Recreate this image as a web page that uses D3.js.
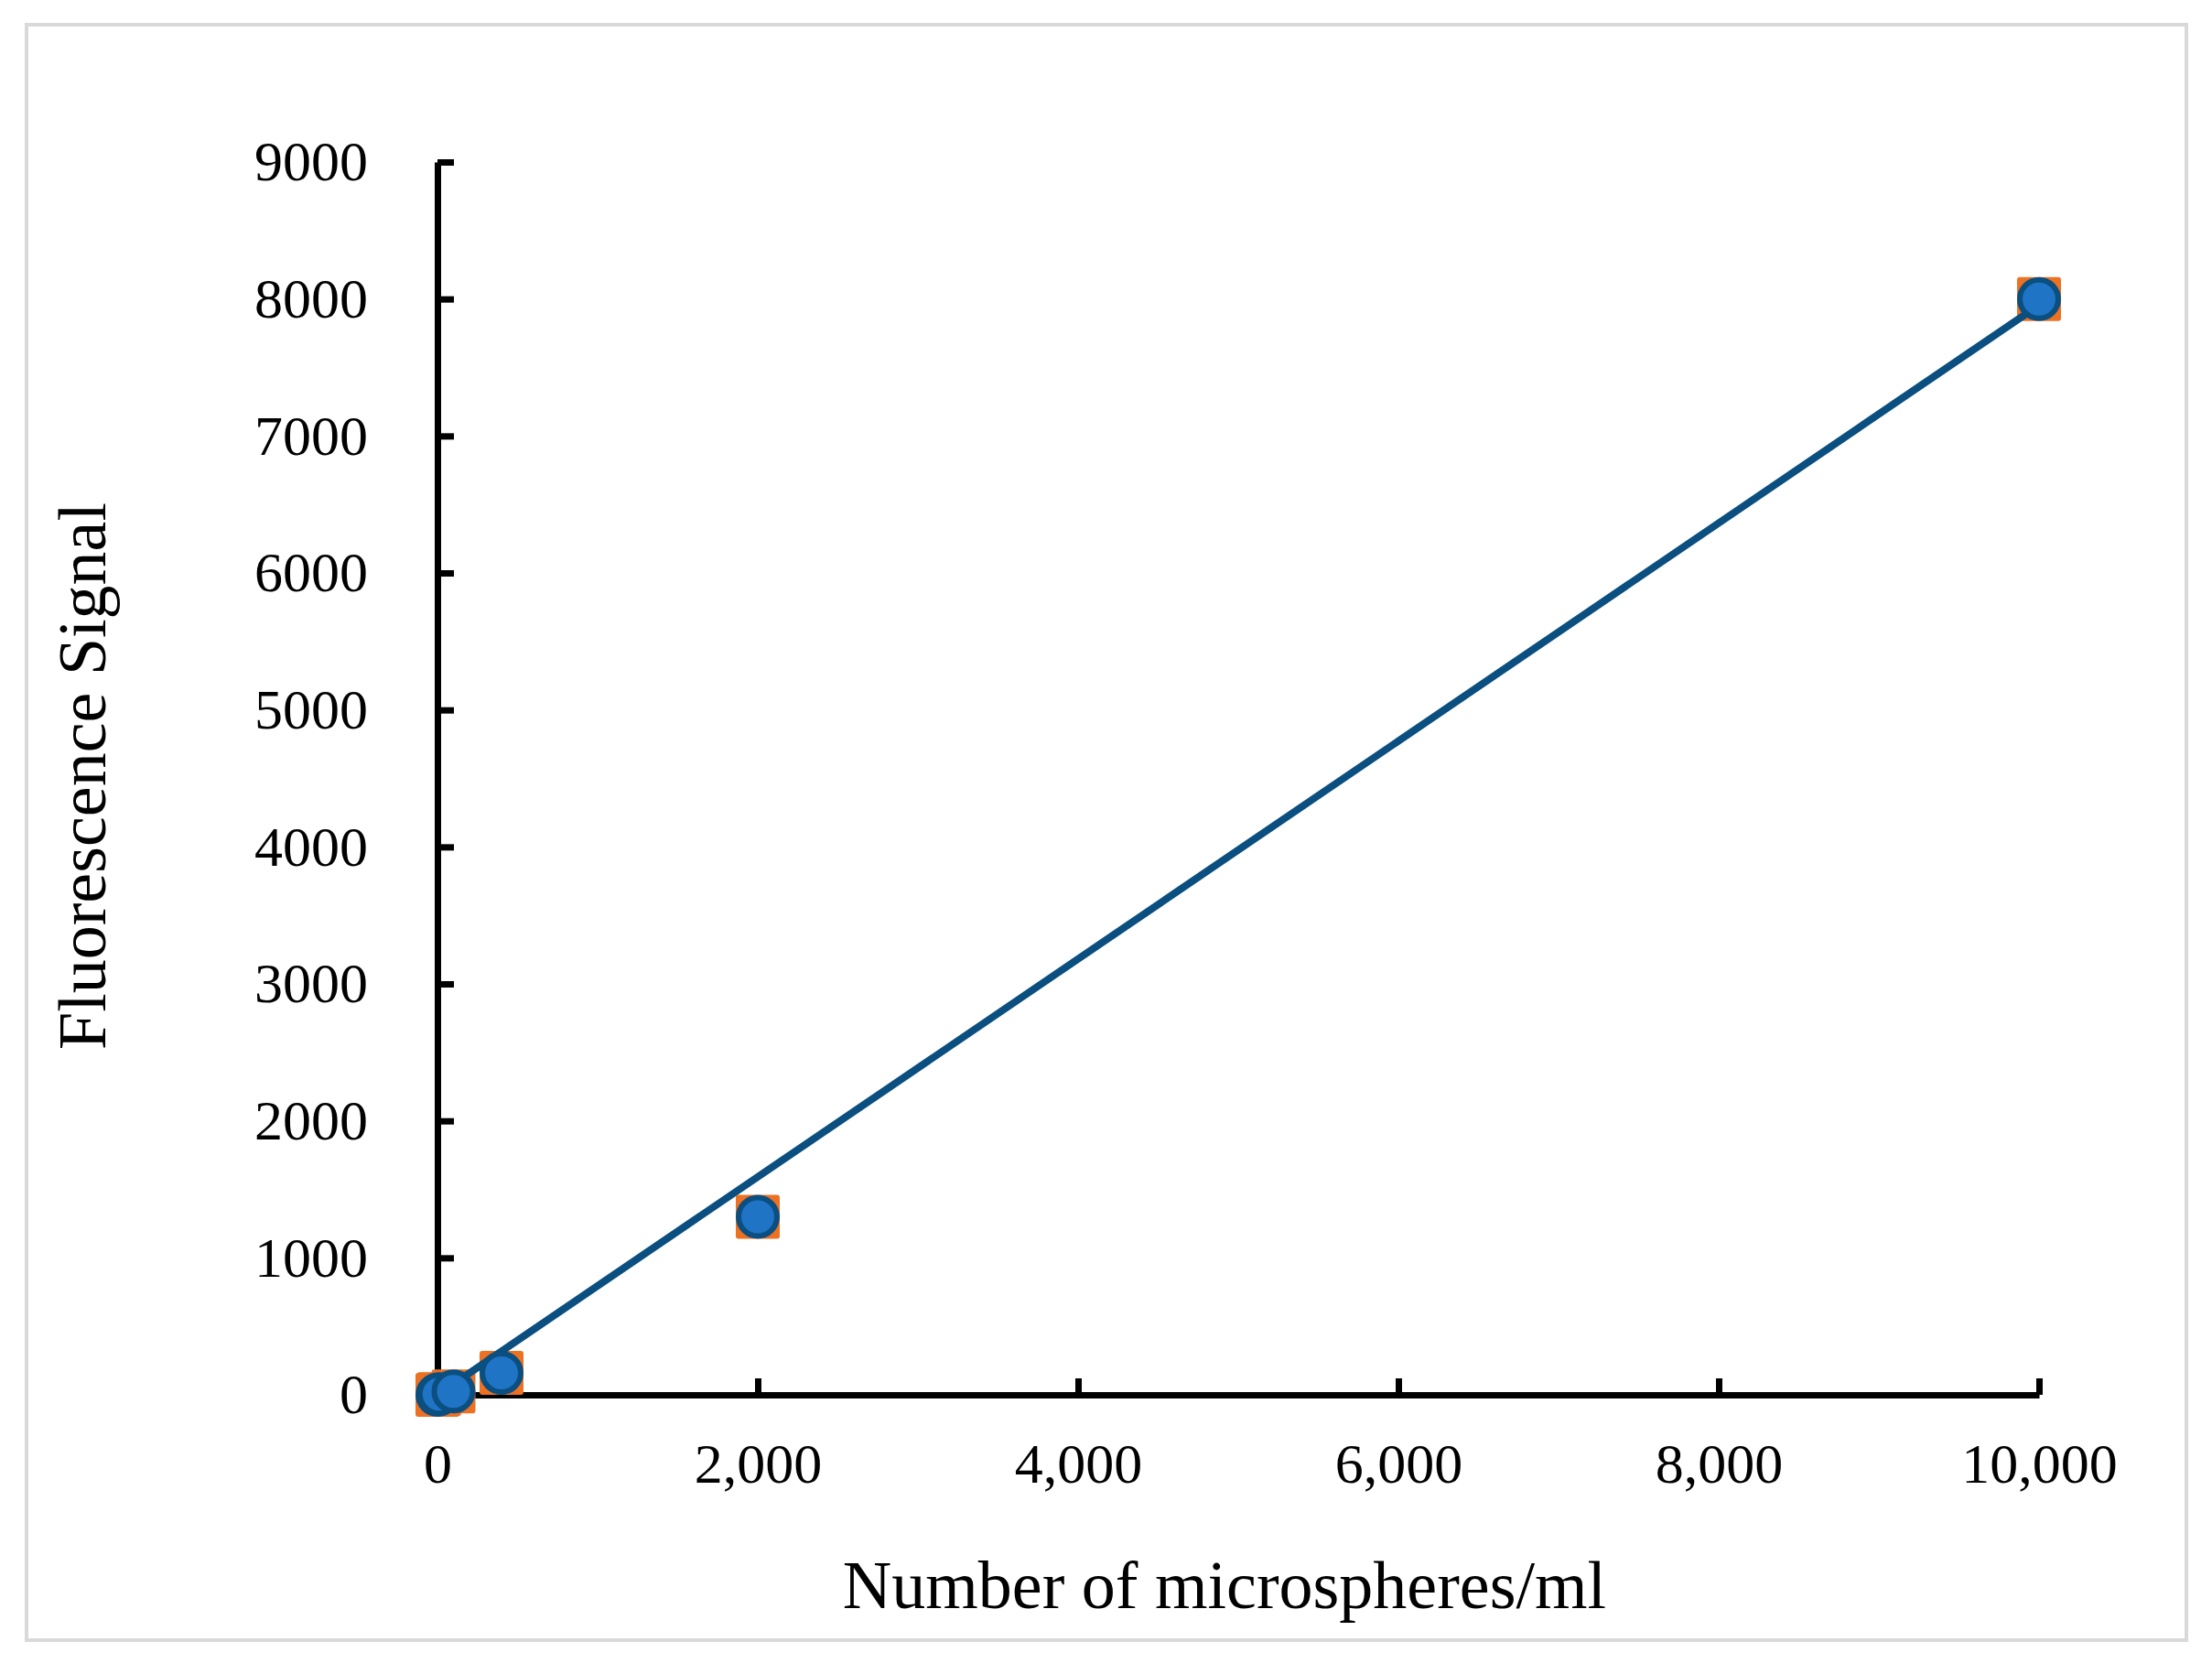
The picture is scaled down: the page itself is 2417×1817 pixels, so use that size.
<!DOCTYPE html><html><head><meta charset="utf-8">
<script src="https://cdn.jsdelivr.net/npm/d3@7"></script>
<style>body{margin:0;background:#fff}</style></head><body>
<svg id="c" width="2417" height="1817"></svg>
<script>
const xValues=[0,10,100,400,2000,10000];
const yValues=[0,5,25,160,1300,8000];
const xTicks=[0,2000,4000,6000,8000,10000];
const yTicks=[0,1000,2000,3000,4000,5000,6000,7000,8000,9000];
const svg=d3.select("#c");
const font="'Liberation Serif','Times New Roman',serif";
svg.append("rect").attr("x",29).attr("y",27).attr("width",2360).attr("height",1765).attr("fill","#fff").attr("stroke","#d9d9d9").attr("stroke-width",4);
const x=d3.scaleLinear().domain([0,10000]).range([478,2228]);
const y=d3.scaleLinear().domain([0,9000]).range([1524,177]);
const xa=svg.append("g").attr("transform","translate(0,1524)").call(d3.axisBottom(x).tickValues(xTicks).tickFormat(d3.format(",")).tickSize(-18).tickPadding(40).tickSizeOuter(0));
const ya=svg.append("g").attr("transform","translate(478,0)").call(d3.axisLeft(y).tickValues(yTicks).tickFormat(d=>d).tickSize(-18).tickPadding(76).tickSizeOuter(0));
[xa,ya].forEach(a=>{a.selectAll("path,line").attr("stroke","#000").attr("stroke-width",7);a.selectAll("text").attr("font-family",font).attr("font-size",62).attr("fill","#000");});
xa.selectAll("text").attr("dy","0.9em");
// regression trendline
const n=xValues.length,mx=d3.mean(xValues),my=d3.mean(yValues);
let sxy=0,sxx=0;for(let i=0;i<n;i++){sxy+=(xValues[i]-mx)*(yValues[i]-my);sxx+=(xValues[i]-mx)**2;}
const b=sxy/sxx,a0=my-b*mx;
const pts=xValues.map((d,i)=>({x:d,y:yValues[i]}));
svg.selectAll("rect.sq").data(pts).enter().append("rect").attr("class","sq")
 .attr("x",d=>x(d.x)-24).attr("y",d=>y(d.y)-24).attr("width",48).attr("height",48).attr("rx",3).attr("fill","#ec7123");
svg.append("line").attr("x1",x(0)).attr("y1",y(Math.max(a0,0))).attr("x2",x(10000)).attr("y2",y(a0+b*10000)).attr("stroke","#0a4f7f").attr("stroke-width",8);
svg.selectAll("circle").data(pts).enter().append("circle").attr("cx",d=>x(d.x)).attr("cy",d=>y(d.y)).attr("r",21).attr("fill","#1f74c6").attr("stroke","#0a4f80").attr("stroke-width",6);
svg.append("text").attr("x",1338).attr("y",1757).attr("text-anchor","middle").attr("font-family",font).attr("font-size",74).text("Number of microspheres/ml");
svg.append("text").attr("transform","translate(115,848) rotate(-90)").attr("text-anchor","middle").attr("font-family",font).attr("font-size",74).text("Fluorescence Signal");
</script></body></html>
